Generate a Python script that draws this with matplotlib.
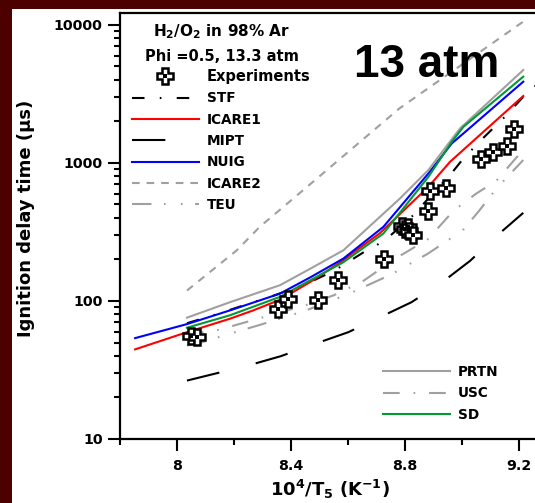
import matplotlib
matplotlib.use('Agg')
import matplotlib.pyplot as plt
from matplotlib.patches import Rectangle
from matplotlib.legend_handler import HandlerTuple
from matplotlib.ticker import FixedLocator, LogLocator, NullFormatter

plt.rcParams['font.family'] = ['DejaVu Sans']
plt.rcParams['font.weight'] = 'bold'
plt.rcParams['mathtext.fontset'] = 'dejavusans'
plt.rcParams['mathtext.default'] = 'bf'
plt.rcParams['lines.scale_dashes'] = False

# experiments
exp_x = [8.05, 8.07, 8.356, 8.391, 8.496, 8.564, 8.727, 8.79, 8.80, 8.81, 8.815, 8.829,
         8.882, 8.888, 8.944, 9.067, 9.108, 9.157, 9.184]
exp_y = [56, 55, 88, 104, 101, 143, 200, 350, 335, 345, 320, 300,
         450, 628, 653, 1060, 1205, 1325, 1757]

# models
stf_x = [8.035, 8.128, 8.28, 8.332, 8.45, 8.55, 8.666, 8.70, 8.747, 8.82, 8.967, 9.005, 9.073, 9.145, 9.221, 9.27]
stf_y = [69, 78.8, 99.8, 108, 132, 165, 233, 253, 296, 400, 861, 1078, 1507, 2105, 3104, 3800]

icare1_x = [7.853, 8.035, 8.186, 8.268, 8.361, 8.467, 8.572, 8.712, 8.882, 8.958, 9.215]
icare1_y = [44.6, 59.4, 74.4, 85.5, 102, 137, 190, 310, 671, 1019, 3055]

mipt_x = [8.035, 8.25, 8.364, 8.502, 8.601, 8.718, 8.823, 8.935, 9.028, 9.124, 9.215]
mipt_y = [26.5, 34.1, 39.8, 50.4, 59.4, 77.3, 98, 139, 195, 299, 435]

nuig_x = [7.853, 8.035, 8.186, 8.361, 8.467, 8.584, 8.724, 8.882, 8.964, 9.005, 9.215]
nuig_y = [53.8, 68, 85.5, 113, 148, 203, 344, 839, 1384, 1636, 3880]

icare2_x = [8.035, 8.21, 8.29, 8.50, 8.78, 9.215]
icare2_y = [119, 233, 344, 800, 2480, 10570]

teu_x = [8.035, 8.09, 8.15, 8.3, 8.45, 8.6, 8.75, 8.88, 8.95, 9.0, 9.06, 9.12, 9.215]
teu_y = [47.6, 50.4, 55, 68, 85, 112, 155, 220, 275, 320, 450, 650, 1050]

prtn_x = [8.035, 8.186, 8.361, 8.467, 8.584, 8.782, 8.882, 8.993, 9.215]
prtn_y = [75.7, 98, 130, 171, 233, 552, 888, 1778, 4710]

usc_x = [8.035, 8.15, 8.3, 8.45, 8.55, 8.65, 8.77, 8.88, 8.97, 9.05, 9.12, 9.215]
usc_y = [57, 62, 76, 93, 110, 138, 205, 280, 450, 600, 740, 1250]

sd_x = [8.035, 8.186, 8.361, 8.467, 8.584, 8.724, 8.882, 8.964, 9.005, 9.215]
sd_y = [64, 78.8, 107, 141, 191, 308, 793, 1422, 1828, 4220]

W, H = 535, 503
fig = plt.figure(figsize=(W / 100, H / 100), dpi=100, facecolor='#4d0000')
fig.patches.append(Rectangle((12 / W, 0), 1, 1 - 9 / H, transform=fig.transFigure,
                             facecolor='white', edgecolor='none', zorder=-5))
ax = fig.add_axes([120 / W, 64 / H, 427.5 / W, 426 / H])

lw = 1.5
gray = '#a0a0a0'
l_stf, = ax.plot(stf_x, stf_y, color='black', lw=lw, dashes=(9, 11, 1.2, 11))
l_icare1, = ax.plot(icare1_x, icare1_y, color='#ff0000', lw=lw)
l_mipt, = ax.plot(mipt_x, mipt_y, color='black', lw=lw, dashes=(24, 27))
l_nuig, = ax.plot(nuig_x, nuig_y, color='#0000ff', lw=lw)
l_icare2, = ax.plot(icare2_x, icare2_y, color=gray, lw=lw, dashes=(5.5, 5))
l_teu, = ax.plot(teu_x, teu_y, color=gray, lw=lw, dashes=(14, 9, 1.2, 11, 1.2, 9))
l_prtn, = ax.plot(prtn_x, prtn_y, color=gray, lw=lw)
l_usc, = ax.plot(usc_x, usc_y, color=gray, lw=lw, dashes=(12, 10, 1.2, 10))
l_sd, = ax.plot(sd_x, sd_y, color='#009933', lw=lw)

m1, = ax.plot(exp_x, exp_y, ls='none', marker='P', ms=11, mfc='white', mec='black', mew=1.8, zorder=5)
m2, = ax.plot(exp_x, exp_y, ls='none', marker='s', ms=2.5, mfc='black', mec='black', mew=0, zorder=6)

ax.set_yscale('log')
ax.set_xlim(7.8, 9.3)
ax.set_ylim(10, 12200)
ax.xaxis.set_major_locator(FixedLocator([8, 8.4, 8.8, 9.2]))
ax.set_xticklabels(['8', '8.4', '8.8', '9.2'])
ax.xaxis.set_minor_locator(FixedLocator([7.8, 8.2, 8.6, 9.0]))
ax.set_yticks([10, 100, 1000, 10000])
ax.set_yticklabels(['10', '100', '1000', '10000'])
ax.yaxis.set_minor_locator(LogLocator(base=10, subs=range(2, 10)))
ax.yaxis.set_minor_formatter(NullFormatter())
ax.tick_params(which='major', direction='out', length=8.5, width=1.5, labelsize=10.2)
ax.tick_params(which='minor', direction='out', length=4.5, width=1.5)
ax.tick_params(axis='y', pad=4)
ax.tick_params(axis='x', pad=6)
for s in ['left', 'bottom', 'top']:
    ax.spines[s].set_linewidth(1.6)
ax.spines['right'].set_visible(False)

fig.text(26 / W, 1 - 218 / H, 'Ignition delay time (\u03bcs)', rotation=90,
         ha='center', va='center', fontsize=13)
fig.text(330 / W, 1 - 489 / H, '10$^4$/T$_5$ (K$^{-1}$)', ha='center', va='center', fontsize=13)

fig.text(222 / W, 1 - 32 / H, 'H$_2$/O$_2$ in 98% Ar', ha='center', va='center', fontsize=11)
fig.text(222 / W, 1 - 56.7 / H, 'Phi =0.5, 13.3 atm', ha='center', va='center', fontsize=10.5)
fig.text(427 / W, 1 - 77 / H, '13 atm', ha='center', va='baseline', fontsize=33,
         family='Liberation Sans')

leg1 = ax.legend([(m1, m2), l_stf, l_icare1, l_mipt, l_nuig, l_icare2, l_teu],
                 ['Experiments', 'STF', 'ICARE1', 'MIPT', 'NUIG', 'ICARE2', 'TEU'],
                 handler_map={tuple: HandlerTuple(ndivide=1)},
                 loc='upper left', bbox_to_anchor=(132 / W, 1 - 69 / H),
                 bbox_transform=fig.transFigure, frameon=False, fontsize=9.8,
                 borderpad=0, borderaxespad=0, handlelength=4.9, handletextpad=0.6,
                 labelspacing=0.54)
leg1.get_texts()[0].set_fontsize(10.5)
ax.add_artist(leg1)
ax.legend([l_prtn, l_usc, l_sd], ['PRTN', 'USC', 'SD'],
          loc='upper left', bbox_to_anchor=(383 / W, 1 - 365 / H),
          bbox_transform=fig.transFigure, frameon=False, fontsize=9.8,
          borderpad=0, borderaxespad=0, handlelength=4.9, handletextpad=0.6,
          labelspacing=0.54)

fig.savefig('out.png', dpi=100, facecolor=fig.get_facecolor())
